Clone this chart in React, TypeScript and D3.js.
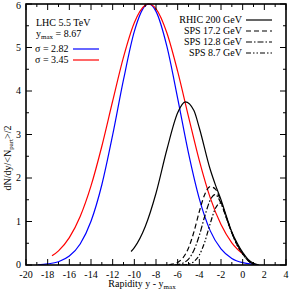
import React, { useEffect, useRef } from "react";
import * as d3 from "d3";

// tick values
const xTicks = [-20, -18, -16, -14, -12, -10, -8, -6, -4, -2, 0, 2, 4];
const yTicks = [0, 1, 2, 3, 4, 5, 6];

// LHC 5.5 TeV, sigma = 2.82
const lhcNarrowX = [-18.9, -18, -17, -16, -15, -14, -13, -12, -11, -10, -9, -8.67, -8, -7, -6, -5, -4, -3, -2, -1, 0, 1, 1.3];
const lhcNarrowY = [0.005, 0.025, 0.076, 0.205, 0.483, 1.005, 1.845, 2.99, 4.26, 5.37, 5.96, 6.0, 5.83, 5.03, 3.83, 2.57, 1.52, 0.79, 0.37, 0.15, 0.053, 0.017, 0.01];

// LHC 5.5 TeV, sigma = 3.45
const lhcWideX = [-17.6, -17, -16, -15, -14, -13, -12, -11, -10, -9, -8.67, -8, -7, -6, -5, -4, -3, -2, -1, 0];
const lhcWideY = [0.21, 0.325, 0.628, 1.114, 1.818, 2.73, 3.77, 4.78, 5.57, 5.97, 6.0, 5.89, 5.34, 4.45, 3.41, 2.4, 1.55, 0.93, 0.51, 0.255];

// RHIC 200 GeV
const rhicX = [-10.3, -10, -9, -8, -7, -6, -5.3, -4.5, -4, -3, -2.5, -2, -1.5, -1, -0.5, 0, 0.5, 1, 1.5];
const rhicY = [0.31, 0.4, 0.88, 1.65, 2.65, 3.5, 3.75, 3.55, 3.15, 2.2, 1.83, 1.5, 1.12, 0.76, 0.5, 0.29, 0.13, 0.04, 0.0];

// SPS 17.2 GeV
const sps172X = [-6.8, -6.5, -6, -5.5, -5, -4.5, -4, -3.5, -3, -2.5, -2, -1.5, -1, -0.5, 0, 0.5, 1];
const sps172Y = [0.0, 0.02, 0.06, 0.17, 0.39, 0.76, 1.23, 1.62, 1.8, 1.74, 1.45, 1.08, 0.74, 0.47, 0.27, 0.11, 0.03];

// SPS 12.8 GeV
const sps128X = [-6.3, -6, -5.5, -5, -4.5, -4, -3.5, -3, -2.55, -2, -1.5, -1, -0.5, 0, 0.5, 1];
const sps128Y = [0.0, 0.01, 0.044, 0.136, 0.34, 0.68, 1.12, 1.49, 1.62, 1.42, 1.08, 0.74, 0.46, 0.26, 0.1, 0.02];

// SPS 8.7 GeV
const sps87X = [-5.6, -5, -4.5, -4, -3.5, -3, -2.5, -2.1, -1.5, -1, -0.5, 0, 0.5, 1];
const sps87Y = [0.0, 0.02, 0.08, 0.23, 0.53, 0.95, 1.31, 1.42, 1.1, 0.74, 0.45, 0.25, 0.1, 0.02];

const App = () => {
    const svgRef = useRef<SVGSVGElement>(null);

    useEffect(() => {
        const width = 290, height = 292;
        const margin = { top: 4, right: 4, bottom: 27, left: 26 };
        const w = width - margin.left - margin.right;
        const h = height - margin.top - margin.bottom;
        const font = "'Liberation Serif', 'Times New Roman', serif";

        const svg = d3.select(svgRef.current)
            .attr("width", width)
            .attr("height", height);
        svg.selectAll("*").remove();

        const x = d3.scaleLinear().domain([-20, 4]).range([0, w]);
        const y = d3.scaleLinear().domain([0, 6]).range([h, 0]);

        const g = svg.append("g")
            .attr("transform", `translate(${margin.left},${margin.top})`);

        g.append("clipPath").attr("id", "plotclip")
            .append("rect").attr("x", 0).attr("y", -1).attr("width", w).attr("height", h + 1);

        const line = d3.line<[number, number]>()
            .x(d => x(d[0]))
            .y(d => y(d[1]))
            .curve(d3.curveMonotoneX);

        const series = [
            { xs: lhcNarrowX, ys: lhcNarrowY, color: "#0000ff", dash: null },
            { xs: lhcWideX, ys: lhcWideY, color: "#ff0000", dash: null },
            { xs: rhicX, ys: rhicY, color: "#000", dash: null },
            { xs: sps172X, ys: sps172Y, color: "#000", dash: "5,3" },
            { xs: sps128X, ys: sps128Y, color: "#000", dash: "6,2,1.5,2" },
            { xs: sps87X, ys: sps87Y, color: "#000", dash: "5,2,1.5,2,1.5,2" },
        ];

        const curves = g.append("g").attr("clip-path", "url(#plotclip)");
        series.forEach(s => {
            const pts = s.xs.map((v, i) => [v, s.ys[i]] as [number, number]);
            curves.append("path")
                .attr("d", line(pts))
                .attr("fill", "none")
                .attr("stroke", s.color)
                .attr("stroke-width", 1.2)
                .attr("stroke-dasharray", s.dash);
        });

        // ticks on all four sides, pointing inward
        const xMinor = d3.range(-20, 5, 1);
        const yMinor = d3.range(0, 6.01, 0.5);
        const ticks = g.append("g").attr("stroke", "#000").attr("stroke-width", 1);
        xMinor.forEach(v => {
            const len = v % 2 === 0 ? 6 : 3;
            ticks.append("line").attr("x1", x(v)).attr("x2", x(v)).attr("y1", h).attr("y2", h - len);
            ticks.append("line").attr("x1", x(v)).attr("x2", x(v)).attr("y1", 0).attr("y2", len);
        });
        yMinor.forEach(v => {
            const len = Number.isInteger(v) ? 6 : 3;
            ticks.append("line").attr("y1", y(v)).attr("y2", y(v)).attr("x1", 0).attr("x2", len);
            ticks.append("line").attr("y1", y(v)).attr("y2", y(v)).attr("x1", w).attr("x2", w - len);
        });

        g.append("rect")
            .attr("width", w).attr("height", h)
            .attr("fill", "none").attr("stroke", "#000").attr("stroke-width", 1.6);

        g.selectAll(".xlab").data(xTicks).enter().append("text")
            .attr("x", d => x(d)).attr("y", h + 12.5)
            .attr("text-anchor", "middle")
            .attr("font-family", font).attr("font-size", 10)
            .text(d => String(d));

        g.selectAll(".ylab").data(yTicks).enter().append("text")
            .attr("x", -5).attr("y", d => y(d) + (d === 6 ? 4.5 : 3))
            .attr("text-anchor", "end")
            .attr("font-family", font).attr("font-size", 10)
            .text(d => String(d));

        // axis titles
        const xt = svg.append("text")
            .attr("x", 142).attr("y", 287)
            .attr("text-anchor", "middle")
            .attr("font-family", font).attr("font-size", 10);
        xt.append("tspan").text("Rapidity y - y");
        xt.append("tspan").attr("dy", 2).attr("font-size", 7).text("max");

        const yt = svg.append("text")
            .attr("transform", "translate(11,158) rotate(-90)")
            .attr("text-anchor", "middle")
            .attr("font-family", font).attr("font-size", 10);
        yt.append("tspan").text("dN/dy/<N");
        yt.append("tspan").attr("dy", 2).attr("font-size", 7).text("part");
        yt.append("tspan").attr("dy", -2).text(">/2");

        // left legend
        const leg = g.append("g").attr("font-family", font).attr("font-size", 10);
        leg.append("text").attr("x", 10).attr("y", 22).text("LHC 5.5 TeV");
        const ym = leg.append("text").attr("x", 10).attr("y", 33);
        ym.append("tspan").text("y");
        ym.append("tspan").attr("dy", 2).attr("font-size", 7).text("max");
        ym.append("tspan").attr("dy", -2).text(" = 8.67");
        leg.append("text").attr("x", 9).attr("y", 48).text("\u03c3 = 2.82");
        leg.append("line").attr("x1", 47).attr("x2", 73).attr("y1", 45).attr("y2", 45)
            .attr("stroke", "#0000ff").attr("stroke-width", 1.2);
        leg.append("text").attr("x", 9).attr("y", 59).text("\u03c3 = 3.45");
        leg.append("line").attr("x1", 47).attr("x2", 73).attr("y1", 56).attr("y2", 56)
            .attr("stroke", "#ff0000").attr("stroke-width", 1.2);

        // right legend
        const rlabels = ["RHIC 200 GeV", "SPS 17.2 GeV", "SPS 12.8 GeV", "SPS 8.7 GeV"];
        const rdash = [null, "5,3", "6,2,1.5,2", "5,2,1.5,2,1.5,2"];
        rlabels.forEach((t, i) => {
            const yy = 19 + i * 11;
            leg.append("text").attr("x", 216).attr("y", yy).attr("text-anchor", "end").text(t);
            leg.append("line").attr("x1", 220).attr("x2", 246).attr("y1", yy - 3).attr("y2", yy - 3)
                .attr("stroke", "#000").attr("stroke-width", 1.2)
                .attr("stroke-dasharray", rdash[i]);
        });
    }, []);

    return <svg ref={svgRef} style={{ position: "absolute", left: 0, top: 0 }}></svg>;
};

export default App;
